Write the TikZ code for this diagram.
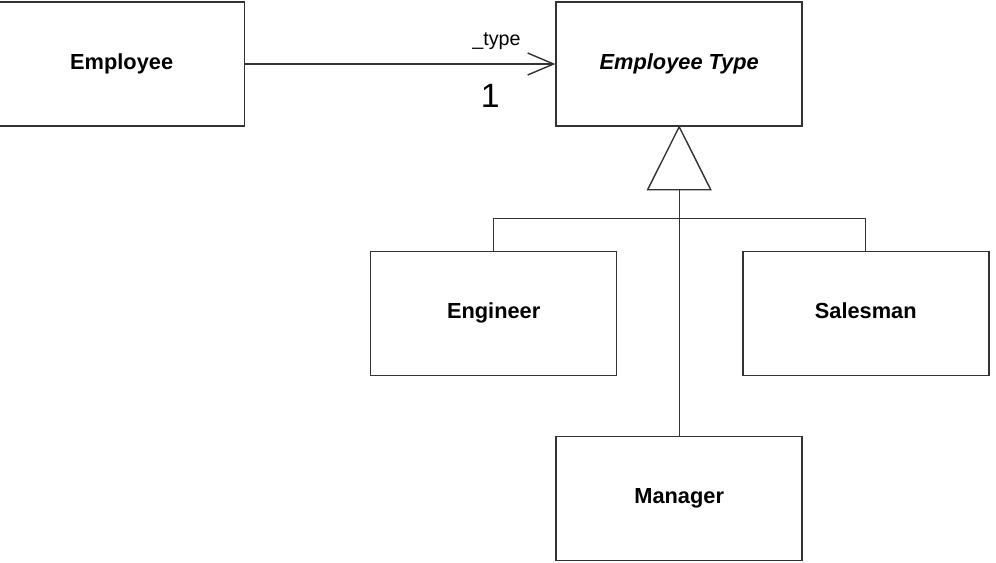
\documentclass[tikz,border=0pt]{standalone}
\usepackage{fontspec}
\setmainfont{Liberation Sans}
\usepackage{tikz}
\usetikzlibrary{arrows.meta,positioning,calc}

\begin{document}
\begin{tikzpicture}[
  cls/.style={draw=black!80, line width=1.1pt, minimum width=6.15cm, minimum height=3.1cm, inner sep=0pt, text height=1.8ex, text depth=0.4ex, font=\fontsize{15.5}{18}\selectfont\bfseries},
  lnk/.style={draw=black!80, line width=1pt},
  arr/.style={lnk, -{Straight Barb[length=0.65cm, width=0.55cm, line width=1pt]}},
  lbl/.style={inner sep=1pt}
]
\useasboundingbox (-0.03,0) rectangle (24.87,-14.05);

\node[cls] (etype) at (16.95,-1.6) {\itshape Employee Type};
\node[cls, left=7.75cm of etype] (emp) {Employee};

\node[cls, below left=3.1cm and -1.55cm of etype] (eng) {Engineer};
\node[cls, below right=3.1cm and -1.525cm of etype] (sales) {Salesman};
\node[cls, below=7.72cm of etype] (mgr) {Manager};

% association
\draw[arr] (emp.east) -- (etype.west)
  node[lbl, pos=0.81, above=0.3cm, font=\fontsize{14}{16}\selectfont] {\_type}
  node[lbl, pos=0.79, below=0.45cm, font=\fontsize{24}{26}\selectfont] {1};

% generalization
\draw[lnk, fill=white] (etype.south) -- ++(-0.79,-1.575) -- ++(1.58,0) -- cycle;
\coordinate (base) at ($(etype.south)+(0,-1.575)$);
\draw[lnk] (base) -- (mgr.north);
\draw[lnk] (eng.north) -- ++(0,0.8) -| (sales.north);

\end{tikzpicture}
\end{document}
